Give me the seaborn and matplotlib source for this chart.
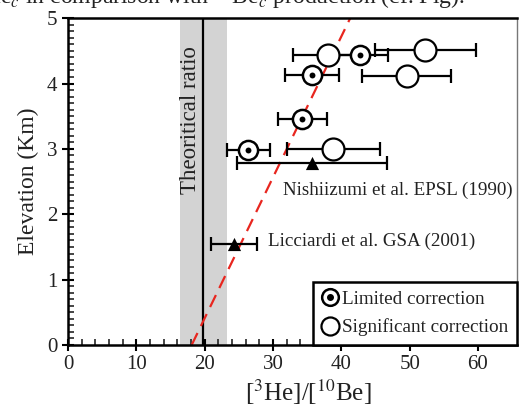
import numpy as np
import pandas as pd
import matplotlib
matplotlib.use("Agg")
import matplotlib.pyplot as plt
import seaborn as sns
from matplotlib.ticker import MultipleLocator
from matplotlib.lines import Line2D
from matplotlib.legend_handler import HandlerTuple

# data
limited_ratio = [42.7, 35.7, 34.3, 26.4]
limited_elev = [4.43, 4.13, 3.45, 2.98]
limited_err = [4.2, 3.9, 3.6, 3.2]

significant_ratio = [38.1, 52.3, 49.6, 38.8]
significant_elev = [4.43, 4.52, 4.12, 3.00]
significant_err = [5.1, 7.4, 6.5, 6.8]

published_ratio = [35.7, 24.3]
published_elev = [2.78, 1.54]
published_err = [11.0, 3.3]
published_labels = ["Nishiizumi et al. EPSL (1990)", "Licciardi et al. GSA (2001)"]

theory_ratio = 19.8
theory_band = [16.4, 23.2]
trend_x = [18.1, 41.3]
trend_y = [0.0, 5.0]

sns.set_style("ticks")
plt.rcParams['font.family'] = ['Liberation Serif', 'DejaVu Serif']
plt.rcParams['mathtext.fontset'] = 'stix'

fig = plt.figure(figsize=(5.19, 4.04), dpi=100)
ax = fig.add_axes([0.131, 0.146, 0.865, 0.809])

# theoretical ratio band + line
ax.axvspan(theory_band[0], theory_band[1], color='#d3d3d3', lw=0, zorder=0)
ax.axvline(theory_ratio, color='black', lw=1.6, zorder=1)
ax.text(17.9, 3.44, "Theoritical ratio", rotation=90, ha='center', va='center',
        fontsize=16.5, color='#222222')

# trend line
trend = pd.DataFrame({'x': trend_x, 'y': trend_y})
sns.lineplot(data=trend, x='x', y='y', ax=ax, color='#e8261f', lw=1.6,
             dashes=False, zorder=2)
ax.lines[-1].set_dashes([6, 3.5])

# error bars
for xs, ys, es in [(limited_ratio, limited_elev, limited_err),
                   (significant_ratio, significant_elev, significant_err),
                   (published_ratio, published_elev, published_err)]:
    ax.errorbar(xs, ys, xerr=es, fmt='none', ecolor='black', elinewidth=1.6,
                capsize=5, capthick=1.6, zorder=3)

sig = pd.DataFrame({'x': significant_ratio, 'y': significant_elev})
lim = pd.DataFrame({'x': limited_ratio, 'y': limited_elev})
pub = pd.DataFrame({'x': published_ratio, 'y': published_elev})

sns.scatterplot(data=sig, x='x', y='y', ax=ax, s=250, marker='o', facecolor='white',
                edgecolor='black', linewidth=1.6, zorder=4)
sns.scatterplot(data=lim, x='x', y='y', ax=ax, s=190, marker='o', facecolor='white',
                edgecolor='black', linewidth=1.8, zorder=4)
sns.scatterplot(data=lim, x='x', y='y', ax=ax, s=18, marker='o', color='black',
                linewidth=0, zorder=5)
sns.scatterplot(data=pub, x='x', y='y', ax=ax, s=90, marker='^', color='black',
                linewidth=0, zorder=5)

ax.text(31.4, 2.37, published_labels[0], fontsize=13.7, ha='left', va='center',
        color='#222222')
ax.text(29.2, 1.58, published_labels[1], fontsize=13.7, ha='left', va='center',
        color='#222222')

ax.set_xlim(0, 65.7)
ax.set_ylim(0, 5)
ax.xaxis.set_major_locator(MultipleLocator(10))
ax.xaxis.set_minor_locator(MultipleLocator(2))
ax.yaxis.set_major_locator(MultipleLocator(1))
ax.yaxis.set_minor_locator(MultipleLocator(0.1))
ax.tick_params(which='major', direction='inout', length=8, width=1.5, labelsize=15,
               colors='black', labelcolor='#222222')
ax.tick_params(which='minor', direction='in', length=4, width=1.2)
ax.tick_params(axis='x', which='major', pad=3)

for side in ['top', 'left', 'bottom']:
    ax.spines[side].set_linewidth(1.8)
    ax.spines[side].set_color('black')
ax.spines['right'].set_linewidth(1.0)
ax.spines['right'].set_color('#777777')

ax.set_xlabel(r"[$^{\mathrm{3}}$He]/[$^{\mathrm{10}}$Be]", fontsize=18, color='#222222')
ax.xaxis.set_label_coords(0.535, -0.10)
ax.set_ylabel("Elevation (Km)", fontsize=17, labelpad=6, color='#222222')

ring_lim = Line2D([], [], marker='o', ls='none', markersize=12, markerfacecolor='white',
                  markeredgecolor='black', markeredgewidth=1.8)
dot_lim = Line2D([], [], marker='o', ls='none', markersize=4, color='black')
ring_sig = Line2D([], [], marker='o', ls='none', markersize=13, markerfacecolor='white',
                  markeredgecolor='black', markeredgewidth=1.6)
leg = ax.legend([(ring_lim, dot_lim), ring_sig], ["Limited correction", "Significant correction"],
                handler_map={tuple: HandlerTuple(ndivide=1)}, loc='lower right',
                borderaxespad=0, fancybox=False, frameon=True, fontsize=13.8,
                handlelength=0.8, handletextpad=0.25, borderpad=0.45, labelspacing=0.55)
leg.get_frame().set_edgecolor('black')
leg.get_frame().set_linewidth(1.8)
leg.get_frame().set_alpha(1)
for t in leg.get_texts():
    t.set_color('#222222')

# caption cut off at the top of the page
fig.text(465 / 519, 1 - 4 / 404, r"He$_c$ in comparison with $^{10}$Be$_c$ production (cf. Fig).",
         ha='right', va='baseline', fontsize=17, color='#222222')

fig.savefig("out.png", dpi=100)
